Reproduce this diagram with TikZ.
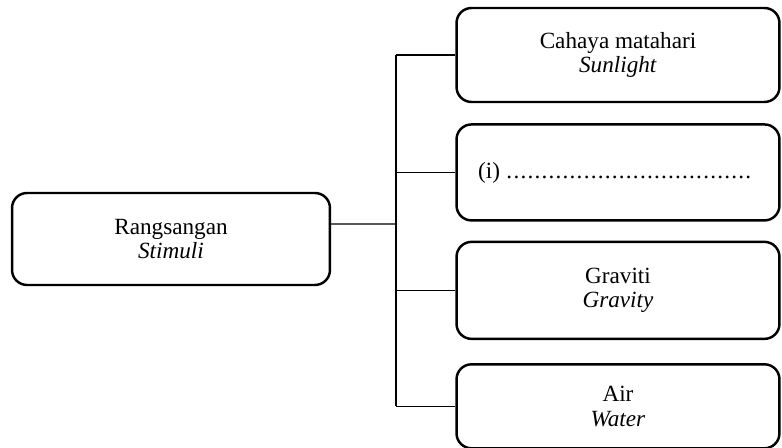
\documentclass[tikz,border=0pt]{standalone}
\usepackage{fontspec}
\setmainfont{Liberation Serif}
\usepackage{tikz}
\usetikzlibrary{positioning, calc}

\begin{document}
\begin{tikzpicture}[
    x=0.02cm, y=-0.02cm,
    node distance=0.4cm,
    box/.style={draw, line width=1.4pt, rounded corners=0.3cm, minimum width=6.46cm, minimum height=1.92cm, align=center, font=\fontsize{13.2}{14}\selectfont},
    link/.style={line width=0.7pt}
]
    \useasboundingbox (0,0) rectangle (782,448);

    \node[box, minimum width=6.36cm, minimum height=1.84cm] (stimuli) at (171,239) {Rangsangan\\\textit{Stimuli}};
    \node[box, minimum height=1.88cm] (sunlight) at (618,55) {Cahaya matahari\\\textit{Sunlight}};
    \node[box, below=of sunlight] (blank) {(i) \makebox[5.04cm]{\leaders\hbox to 4pt{\hss.\hss}\hfill}};
    \node[box, minimum height=1.94cm, below=0.38cm of blank] (gravity) {Graviti\\\textit{Gravity}};
    \node[box, minimum height=1.68cm, below=0.46cm of gravity] (water) {Air\\\textit{Water}};

    \coordinate (hub) at (396,224);
    \draw[link] ([yshift=0.3cm]stimuli.east) -- (hub);
    \draw[link] (hub |- sunlight.west) -- (hub |- water.west);
    \draw[link] (hub |- sunlight.west) -- (sunlight.west);
    \draw[link] (hub |- blank.west) -- (blank.west);
    \draw[link] (hub |- gravity.west) -- (gravity.west);
    \draw[link] (hub |- water.west) -- (water.west);
\end{tikzpicture}
\end{document}
